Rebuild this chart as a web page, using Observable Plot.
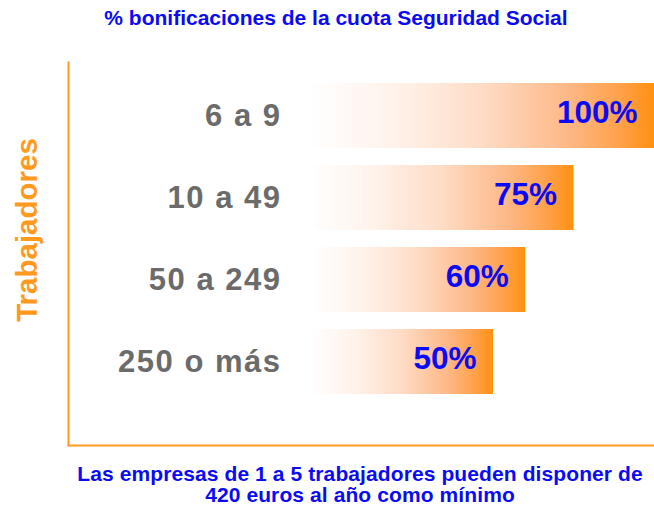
<!DOCTYPE html>
<html>
<head>
<meta charset="utf-8">
<script src="https://cdn.jsdelivr.net/npm/d3@7"></script>
<script src="https://cdn.jsdelivr.net/npm/@observablehq/plot@0.6"></script>
<style>
  body { margin: 0; background: #fff; }
  #wrap { width: 654px; height: 507px; position: relative; overflow: hidden; font-family: Arial, "Liberation Sans", sans-serif; }
  #title { height: 40px; box-sizing: border-box; padding-top: 6px; padding-left: 18px; text-align: center; font-weight: bold; font-size: 21px; line-height: 24px; color: #0a0af5; }
  #caption { padding-left: 66px; text-align: center; font-weight: bold; font-size: 21px; line-height: 21px; color: #0a0af5; letter-spacing: 0.1px; }
  svg { display: block; }
</style>
</head>
<body>
<div id="wrap">
  <div id="title">% bonificaciones de la cuota Seguridad Social</div>
  <div id="chart"></div>
  <div id="caption">Las empresas de 1 a 5 trabajadores pueden disponer de<br>420 euros al año como mínimo</div>
</div>
<script>
const categories = ["6 a 9", "10 a 49", "50 a 249", "250 o más"];
const values = [100, 75, 60, 50];
const yLabel = "Trabajadores";
const barBase = -7;

const data = categories.map((c, i) => ({cat: c, value: values[i]}));
const orange = "#ff9a1e";
const gray = "#6b6b6b";

const defs = () => {
  const g = d3.create("svg:defs");
  const lg = g.append("linearGradient").attr("id", "barGrad").attr("x1", "0").attr("x2", "1").attr("y1", "0").attr("y2", "0");
  [[0, "#ffffff"], [0.25, "#fff2ea"], [0.5, "#fedcc6"], [0.75, "#fdb887"], [0.9, "#ffa14a"], [1, "#ff9010"]]
    .forEach(([o, c]) => lg.append("stop").attr("offset", o).attr("stop-color", c));
  return g.node();
};

const chart = Plot.plot({
  width: 654,
  height: 423,
  marginTop: 22,
  marginBottom: 18,
  marginLeft: 68,
  marginRight: 0,
  style: {fontFamily: 'Arial, "Liberation Sans", sans-serif', background: "transparent"},
  x: {domain: [-82, 100], axis: null},
  y: {type: "band", domain: categories, paddingInner: 0.21, paddingOuter: 0.42, align: 0.29, axis: null},
  marks: [
    defs,
    Plot.barX(data, {x1: barBase, x2: "value", y: "cat", fill: "url(#barGrad)"}),
    Plot.text(data, {x: "value", y: "cat", text: d => d.value + "%", textAnchor: "end", dx: -17, dy: -3, fill: "#0a0af5", fontSize: 31.5, fontWeight: "bold"}),
    Plot.text(data, {frameAnchor: "left", y: "cat", text: "cat", textAnchor: "end", dx: 213, fill: gray, fontSize: 31, fontWeight: "bold"}),
    Plot.text([yLabel], {frameAnchor: "left", text: d => d, rotate: -90, textAnchor: "middle", dx: -41, dy: -24, fill: orange, fontSize: 29.5, fontWeight: "bold"}),
    Plot.frame({anchor: "left", stroke: orange, strokeWidth: 2}),
    Plot.frame({anchor: "bottom", stroke: orange, strokeWidth: 2})
  ]
});
d3.select(chart).selectAll("g")
  .filter(function () { return this.getAttribute("fill") === gray; })
  .selectAll("text")
  .attr("letter-spacing", "1.5px")
  .style("letter-spacing", "1.5px");
document.getElementById("chart").appendChild(chart);
</script>
</body>
</html>
